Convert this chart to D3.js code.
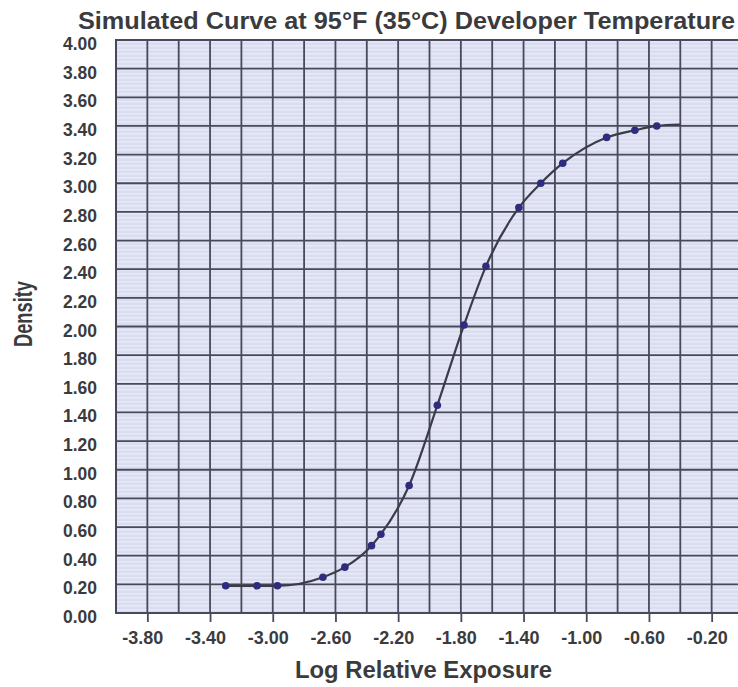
<!DOCTYPE html>
<html><head><meta charset="utf-8">
<script src="https://cdn.jsdelivr.net/npm/d3@7"></script>
<style>
body{margin:0;background:#fff}
svg{display:block}
text{font-family:"Liberation Sans",Arial,sans-serif;font-weight:bold;fill:#3b3b3e}
</style>
</head><body>
<svg id="c" width="738" height="687"></svg>
<script>
// ---- data ----
const logExposure = [-3.30,-3.10,-2.97,-2.68,-2.54,-2.37,-2.31,-2.13,-1.95,-1.78,-1.64,-1.43,-1.29,-1.15,-0.87,-0.69,-0.55];
const density     = [ 0.19, 0.19, 0.19, 0.25, 0.32, 0.47, 0.55, 0.89, 1.45, 2.01, 2.42, 2.83, 3.00, 3.14, 3.32, 3.37, 3.40];
const curveTailExposure = [-0.40];
const curveTailDensity  = [3.41];
const xTickValues = [-3.8,-3.4,-3.0,-2.6,-2.2,-1.8,-1.4,-1.0,-0.6,-0.2];
const yTickValues = [0,0.2,0.4,0.6,0.8,1.0,1.2,1.4,1.6,1.8,2.0,2.2,2.4,2.6,2.8,3.0,3.2,3.4,3.6,3.8,4.0];
const titleText = "Simulated Curve at 95°F (35°C) Developer Temperature";
const xTitle = "Log Relative Exposure";
const yTitle = "Density";

// ---- layout ----
const svg = d3.select("#c");
const L = 116, R = 743, T = 40, B = 613;
const x = d3.scaleLinear().domain([-4, 0]).range([L, R]);
const y = d3.scaleLinear().domain([0, 4]).range([B, T]);
const gridColor = "#474a5c";

// paper pattern (scan stripes)
const defs = svg.append("defs");
const pat = defs.append("pattern").attr("id","paper").attr("patternUnits","userSpaceOnUse")
  .attr("width", 8).attr("height", 4);
pat.append("rect").attr("width",8).attr("height",4).attr("fill","#dadcf0");
pat.append("rect").attr("y",1).attr("width",8).attr("height",1.6).attr("fill","#e7e9f6");

svg.append("rect").attr("x", L).attr("y", T).attr("width", R - L).attr("height", B - T)
  .attr("fill", "url(#paper)");

// grid
const g = svg.append("g").attr("stroke", gridColor).attr("stroke-width", 1.8);
g.selectAll("line.v").data(x.ticks(20)).join("line").attr("class","v")
  .attr("x1", d => x(d)).attr("x2", d => x(d)).attr("y1", T).attr("y2", B);
g.selectAll("line.h").data(y.ticks(20)).join("line").attr("class","h")
  .attr("x1", L).attr("x2", R).attr("y1", d => y(d)).attr("y2", d => y(d));
g.append("line").attr("x1", L).attr("x2", L).attr("y1", T - 0.9).attr("y2", B + 0.9).attr("stroke-width", 2);

// x axis
const xAxis = d3.axisBottom(x).tickValues(xTickValues).tickSize(9).tickPadding(0)
  .tickFormat(d => d.toFixed(2));
const xa = svg.append("g").attr("transform", `translate(0,${B})`).call(xAxis);
xa.select(".domain").remove();
xa.selectAll(".tick line").attr("stroke", gridColor).attr("stroke-width", 1.8);
xa.selectAll(".tick text").attr("x", -5).attr("y", 30.5).attr("dy", null)
  .attr("font-size", 18.5).attr("textLength", 41).attr("lengthAdjust", "spacingAndGlyphs")
  .attr("fill", "#3b3b3e");
xa.attr("font-family", null).attr("font-size", null);

// y axis
const yAxis = d3.axisLeft(y).tickValues(yTickValues).tickSize(0).tickPadding(0)
  .tickFormat(d => d.toFixed(2));
const ya = svg.append("g").attr("transform", `translate(97,0)`).call(yAxis);
ya.select(".domain").remove();
ya.selectAll(".tick text").attr("x", 0).attr("dy", 9.5)
  .attr("font-size", 18.5).attr("textLength", 34).attr("lengthAdjust", "spacingAndGlyphs")
  .attr("fill", "#3b3b3e");
ya.attr("font-family", null).attr("font-size", null);

// curve
const curvePts = logExposure.map((v, i) => [v, density[i]])
  .concat(curveTailExposure.map((v, i) => [v, curveTailDensity[i]]));
const line = d3.line().x(d => x(d[0])).y(d => y(d[1])).curve(d3.curveMonotoneX);
svg.append("path").datum(curvePts).attr("d", line)
  .attr("fill", "none").attr("stroke", "#3c3c48").attr("stroke-width", 2.2);

// points
svg.append("g").selectAll("circle").data(logExposure).join("circle")
  .attr("cx", d => x(d)).attr("cy", (d, i) => y(density[i])).attr("r", 3.8)
  .attr("fill", "#2e2c7c");

// titles
svg.append("text").attr("x", 78).attr("y", 28.5).attr("font-size", 24.5)
  .attr("textLength", 657).attr("lengthAdjust", "spacingAndGlyphs").text(titleText);
svg.append("text").attr("x", 295).attr("y", 678).attr("font-size", 24)
  .attr("textLength", 257).attr("lengthAdjust", "spacingAndGlyphs").text(xTitle);
svg.append("text").attr("transform", "translate(32,347) rotate(-90)").attr("font-size", 26)
  .attr("textLength", 66).attr("lengthAdjust", "spacingAndGlyphs").text(yTitle);
</script>
</body></html>
